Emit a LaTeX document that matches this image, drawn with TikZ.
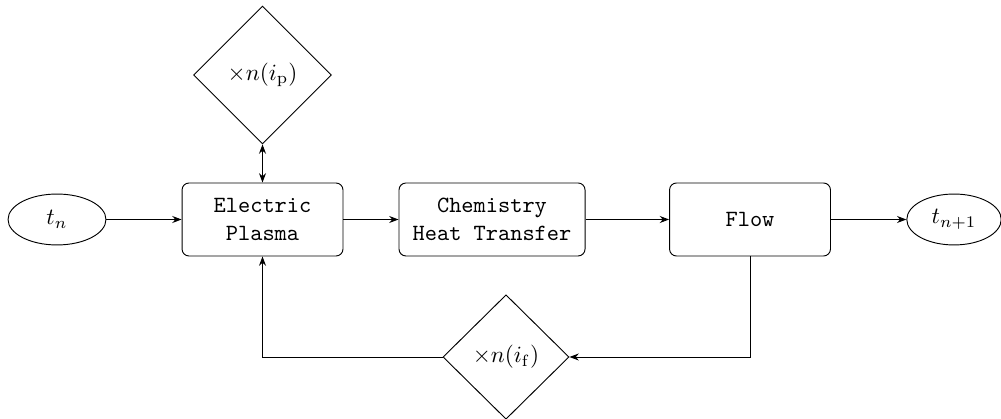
\documentclass[tikz,border=0pt]{standalone}
\usetikzlibrary{shapes.geometric,arrows.meta}
\begin{document}
\begin{tikzpicture}[x=0.43pt,y=-0.43pt,
  box/.style={draw,rounded corners=3pt,align=center,font=\ttfamily,minimum height=31.4pt,inner sep=2pt},
  term/.style={draw,ellipse,inner sep=0pt,minimum height=21.9pt},
  dec/.style={draw,diamond,inner sep=0pt},
  arr/.style={-{Stealth[length=4pt,width=3pt]}},
  darr/.style={{Stealth[length=4pt,width=3pt]}-{Stealth[length=4pt,width=3pt]}}]
\useasboundingbox (0,0) rectangle (1001,419);
\node[term,minimum width=42.1pt] (tn) at (57,219.5) {$t_n$};
\node[box,minimum width=69.2pt] (ep) at (262.5,219.5) {Electric\\Plasma};
\node[box,minimum width=80pt] (ch) at (492,219.5) {Chemistry\\Heat Transfer};
\node[box,minimum width=69.2pt] (fl) at (750,219.5) {Flow};
\node[term,minimum width=40.6pt] (tn1) at (954,219.5) {$t_{n+1}$};
\node[dec,minimum width=59.3pt,minimum height=59.3pt] (dp) at (262.5,75) {$\times n(i_{\mathrm{p}})$};
\node[dec,minimum width=54.2pt,minimum height=53.5pt] (df) at (506,357) {$\times n(i_{\mathrm{f}})$};
\draw[arr] (tn) -- (ep);
\draw[arr] (ep) -- (ch);
\draw[arr] (ch) -- (fl);
\draw[arr] (fl) -- (tn1);
\draw[darr] (dp) -- (ep);
\draw[arr] (fl.south) |- (df.east);
\draw[arr] (df.west) -| (ep.south);
\end{tikzpicture}
\end{document}
